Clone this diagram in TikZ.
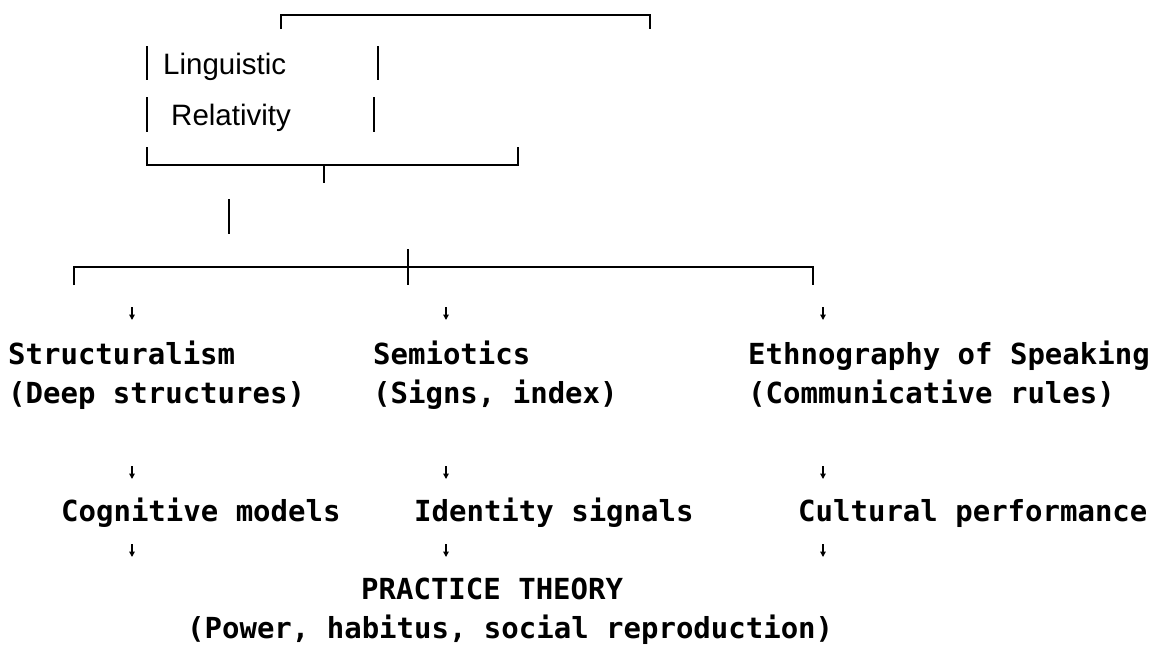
\documentclass[tikz,border=0pt]{standalone}
\usepackage{fontspec}
\usepackage{tikz}
\usetikzlibrary{arrows.meta}
\newfontfamily\labelfont{DejaVu Sans Mono}
\newfontfamily\termfont{Liberation Sans}

\begin{document}
\begin{tikzpicture}[x=1pt,y=-1pt,
    bar/.style={line width=2.8pt},
    dn/.style={-{Triangle[length=5.5pt,width=5.5pt]},line width=1.6pt},
    term/.style={inner sep=0pt,anchor=base west,font=\termfont\fontsize{29.5}{30}\selectfont},
    lbl/.style={inner sep=0pt,anchor=base west,align=left,font=\labelfont\bfseries\fontsize{29}{39}\selectfont}]
  \useasboundingbox (0,0) rectangle (1158,645);
  % top part
  \draw[bar] (281,29) -- (281,15) -- (650,15) -- (650,29);
  \node[term] (ling) at (163,74) {Linguistic};
  \node[term] (rel) at (171,125) {Relativity};
  \draw[bar] (147,46) -- (147,80) (378,46) -- (378,80);
  \draw[bar] (147,97) -- (147,132) (374,97) -- (374,132);
  \draw[bar] (147,147) -- (147,165) -- (518,165) -- (518,147);
  \draw[bar] (324,165) -- (324,183);
  \draw[bar] (229,199) -- (229,234);
  % main split
  \draw[bar] (74,285) -- (74,267) -- (813,267) -- (813,285);
  \draw[bar] (408,249) -- (408,285);
  % three branches
  \node[lbl] (struct) at (8,403) {Structuralism\\(Deep structures)};
  \node[lbl] (semio) at (373,403) {Semiotics\\(Signs, index)};
  \node[lbl] (ethno) at (748,403) {Ethnography of Speaking\\(Communicative rules)};
  \node[lbl] (cog) at (61,521) {Cognitive models};
  \node[lbl] (ident) at (414,521) {Identity signals};
  \node[lbl] (cult) at (798,521) {Cultural performance};
  \node[lbl] (practice) at (187,638) {\hspace*{174pt}PRACTICE THEORY\\(Power, habitus, social reproduction)};
  % small arrows
  \foreach \x/\n in {132/s,446/m,823/e}
    \foreach \y/\r in {307/1,466/2,544/3} {
      \coordinate (t\n\r) at (\x,\y);
      \coordinate (h\n\r) at (\x,{\y+13});
      \draw[dn] (t\n\r) -- (h\n\r);
    }
\end{tikzpicture}
\end{document}
